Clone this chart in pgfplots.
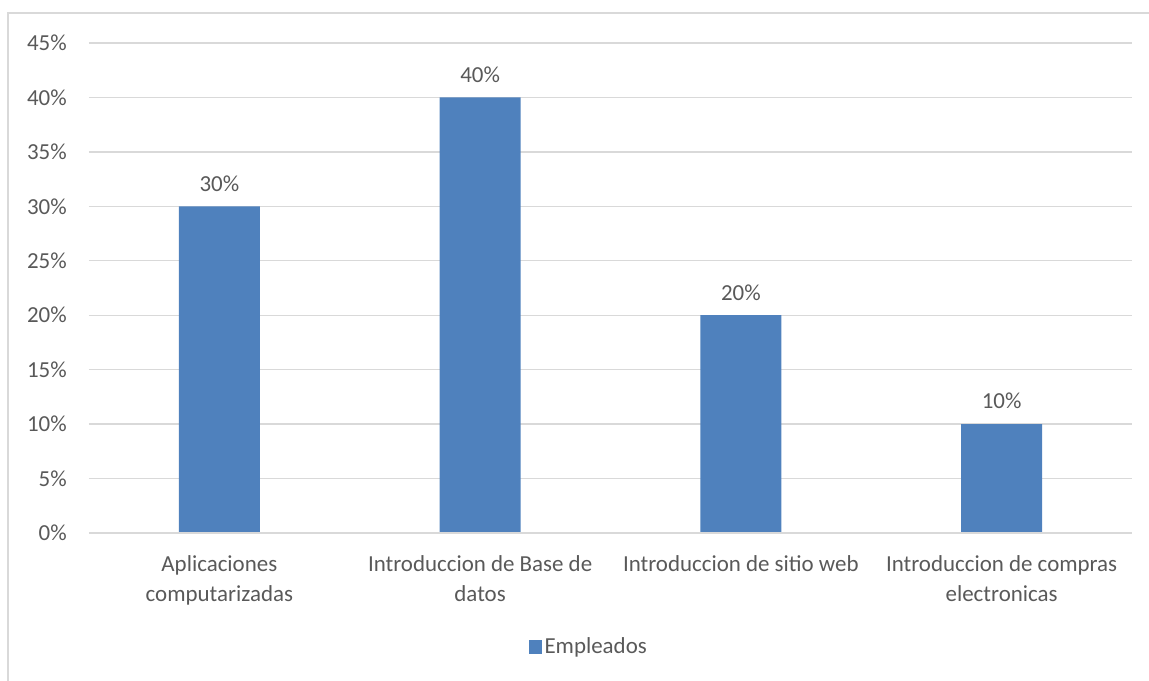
\documentclass[border=0pt]{standalone}
\usepackage{pgfplots}
\pgfplotsset{compat=1.18}
\usepackage{fontspec}
\setmainfont{Carlito}
\definecolor{txt}{HTML}{595959}
\definecolor{bar}{HTML}{4F81BD}
\definecolor{grd}{HTML}{D9D9D9}
\newcommand{\fs}{\fontsize{17.2}{22.5}\selectfont}
\begin{document}
\begin{tikzpicture}
\useasboundingbox (-66.75pt,-111pt) rectangle (795pt,399.75pt);
\draw[grd, line width=1pt] (-60.75pt,-111pt) -- (-60.75pt,390pt) -- (795pt,390pt);
\begin{axis}[
  at={(0,0)}, anchor=south west,
  scale only axis,
  width=782.25pt, height=367.5pt,
  xmin=-0.5, xmax=3.5, ymin=0, ymax=45,
  axis line style={draw=none},
  /pgf/number format/assume math mode=true,
  ytick={0,5,...,45},
  yticklabels={0\%,5\%,10\%,15\%,20\%,25\%,30\%,35\%,40\%,45\%},
  ymajorgrids, grid style={grd, line width=1pt},
  major tick length=0pt,
  yticklabel style={inner sep=0pt, xshift=-16.5pt, anchor=east, text=txt, font=\fs},
  xtick={0,1,2,3},
  xticklabels={{Aplicaciones\\computarizadas}, {Introduccion de Base de\\datos}, {Introduccion de sitio web}, {Introduccion de compras\\electronicas}},
  xticklabel style={inner sep=0pt, yshift=-17pt, anchor=north, align=center, text=txt, font=\fs},
  ybar, bar width=60.75pt, bar shift=0pt,
  nodes near coords={\pgfmathprintnumber{\pgfplotspointmeta}\%},
  nodes near coords style={text=txt, inner sep=0pt, anchor=south, yshift=11pt, font=\fs},
  legend style={at={(0.4794,-0.2327)}, anchor=center, draw=none, fill=none, text=txt, font=\fs, inner sep=0pt},
  legend image code/.code={\fill[#1] (0pt,-5pt) rectangle (10pt,5pt);},
  legend cell align=left,
]
\addplot[fill=bar, draw=none] coordinates {(0,30) (1,40) (2,20) (3,10)};
\addlegendentry{Empleados}
\draw[grd, line width=1pt] (axis cs:-0.5,0) -- (axis cs:3.5,0);
\end{axis}
\end{tikzpicture}
\end{document}
